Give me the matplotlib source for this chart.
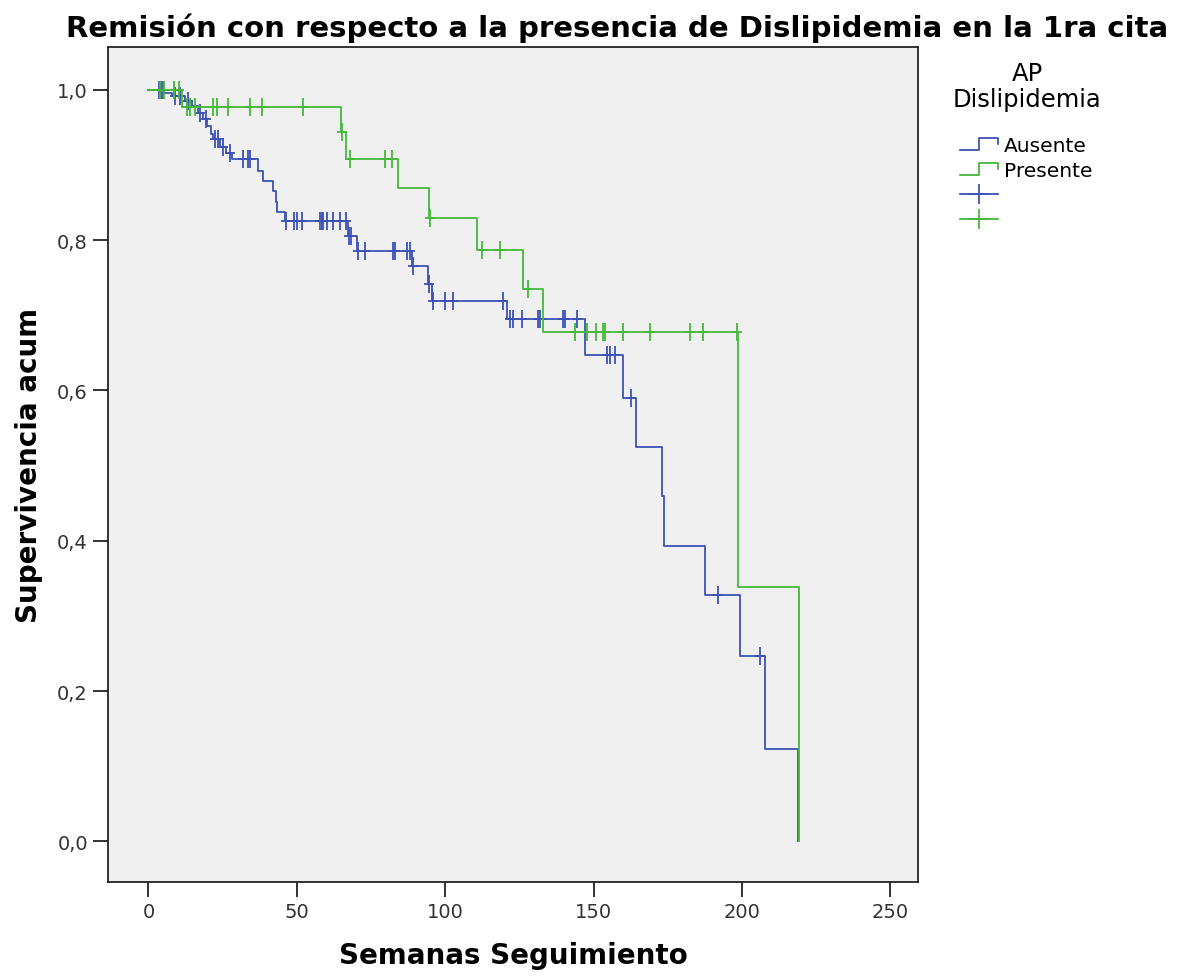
import numpy as np
import matplotlib
matplotlib.use("Agg")
import matplotlib.pyplot as plt
from matplotlib.lines import Line2D
from matplotlib.path import Path
from matplotlib.legend_handler import HandlerBase
from matplotlib.ticker import FuncFormatter

# Kaplan-Meier steps: event times (weeks) and survival after the step
aus_t = [5.3, 8.0, 12.4, 14.7, 16.7, 18.4, 19.8, 21.1, 21.8, 24.2, 26.2, 28.2, 37.0,
         38.6, 42.0, 43.0, 43.4, 46.1, 67.3, 70.3, 88.8, 94.2, 95.6, 120.9, 147.1,
         160.0, 164.3, 173.0, 173.6, 187.5, 199.4, 207.8, 218.9]
aus_s = [0.996, 0.992, 0.985, 0.979, 0.969, 0.961, 0.952, 0.941, 0.935, 0.924, 0.916,
         0.908, 0.892, 0.879, 0.866, 0.851, 0.838, 0.825, 0.805, 0.786, 0.765, 0.742,
         0.719, 0.695, 0.647, 0.590, 0.525, 0.459, 0.393, 0.328, 0.247, 0.123, 0.0]
aus_cens = [3.5, 4.2, 5.0, 9.0, 10.5, 13.5, 17.5, 19.5, 22.5, 23.5, 25.0, 27.5, 32.0,
            33.7, 34.3, 46.4, 49.0, 50.0, 51.8, 57.8, 58.5, 59.0, 60.3, 62.3, 64.7,
            66.5, 67.6, 68.2, 70.6, 73.0, 82.4, 83.0, 87.0, 88.0, 89.1, 94.6, 96.0,
            100.0, 102.8, 119.5, 121.9, 123.0, 126.0, 131.3, 132.0, 139.7, 140.4,
            144.4, 154.6, 155.6, 157.3, 162.6, 192.0, 206.0]

pre_t = [11.4, 64.9, 66.5, 84.1, 94.6, 110.8, 126.3, 133.0, 198.7, 219.2]
pre_s = [0.977, 0.944, 0.908, 0.870, 0.830, 0.787, 0.735, 0.678, 0.339, 0.0]
pre_cens = [4.0, 5.2, 8.6, 10.3, 13.0, 14.0, 15.7, 21.8, 23.2, 26.9, 34.3, 38.4, 52.2,
            65.2, 68.0, 79.8, 82.2, 94.9, 112.4, 118.5, 127.9, 143.8, 147.8, 150.8,
            153.2, 153.9, 160.0, 169.0, 182.5, 186.9, 198.3]

groups = ["Ausente", "Presente"]
colors = ["#3d52b5", "#45b83a"]

# censor mark: tall tick with short arms
cens_marker = Path([(-0.25, 0), (0.25, 0), (0, -0.5), (0, 0.5)],
                   [Path.MOVETO, Path.LINETO, Path.MOVETO, Path.LINETO])


def surv_at(times, survs, t):
    # value of the step function just after time t
    idx = np.searchsorted(times, t, side="right")
    return 1.0 if idx == 0 else survs[idx - 1]


class StepHandler(HandlerBase):
    def create_artists(self, legend, orig_handle, xdescent, ydescent, width, height,
                       fontsize, trans):
        x = np.array([0, 0.5, 0.5, 1.0, 1.0]) * width - xdescent
        y = np.array([0.1, 0.1, 0.95, 0.95, 0.5]) * height - ydescent
        line = Line2D(x, y, color=orig_handle.get_color(), lw=1.3, transform=trans)
        return [line]


fig = plt.figure(figsize=(11.82, 9.78), dpi=100)
ax = fig.add_axes([0.0914, 0.0971, 0.6852, 0.8538])
ax.set_facecolor("#f0f0f0")

data = [(aus_t, aus_s, aus_cens), (pre_t, pre_s, pre_cens)]
step_handles = []
cross_handles = []
for (times, survs, cens), col in zip(data, colors):
    xs = [0] + list(times)
    ys = [1.0] + list(survs)
    ax.step(xs, ys, where="post", color=col, lw=1.3)
    cy = [surv_at(times, survs, c) for c in cens]
    ax.plot(cens, cy, linestyle="none", marker=cens_marker, color=col,
            markersize=13, mew=1.3)
    step_handles.append(Line2D([0], [0], color=col))
    cross_handles.append(Line2D([0], [0], color=col, lw=1.3, marker="+",
                                markersize=15, mew=1.3))

ax.set_xlim(-13.6, 259.3)
ax.set_ylim(-0.054, 1.057)
ax.set_xticks([0, 50, 100, 150, 200, 250])
ax.set_yticks([0.0, 0.2, 0.4, 0.6, 0.8, 1.0])
ax.yaxis.set_major_formatter(FuncFormatter(lambda v, p: f"{v:.1f}".replace(".", ",")))
ax.tick_params(axis="both", labelsize=14, length=11, width=1.3, colors="#222222",
               labelcolor="#333333")
for s in ax.spines.values():
    s.set_color("#222222")
    s.set_linewidth(1.3)

ax.set_xlabel("Semanas Seguimiento", fontsize=20, fontweight="bold", labelpad=14)
ax.set_ylabel("Supervivencia acum", fontsize=20, fontweight="bold", labelpad=10)
fig.text(0.522, 0.971, "Remisión con respecto a la presencia de Dislipidemia en la 1ra cita",
         ha="center", va="center", fontsize=21, fontweight="bold")

# legend title drawn separately so the gap to the entries matches
fig.text(0.869, 0.911, "AP\nDislipidemia", ha="center", va="center",
         multialignment="center", fontsize=17.5, linespacing=1.15)

handles = step_handles + cross_handles
labels = groups + ["", ""]
fig.legend(handles, labels, loc="upper left", bbox_to_anchor=(0.805, 0.868),
           borderaxespad=0, frameon=False, fontsize=14.5,
           handler_map={h: StepHandler() for h in step_handles},
           handlelength=1.9, handletextpad=0.3, labelspacing=0.3, numpoints=1)

fig.savefig("out.png", dpi=100)
